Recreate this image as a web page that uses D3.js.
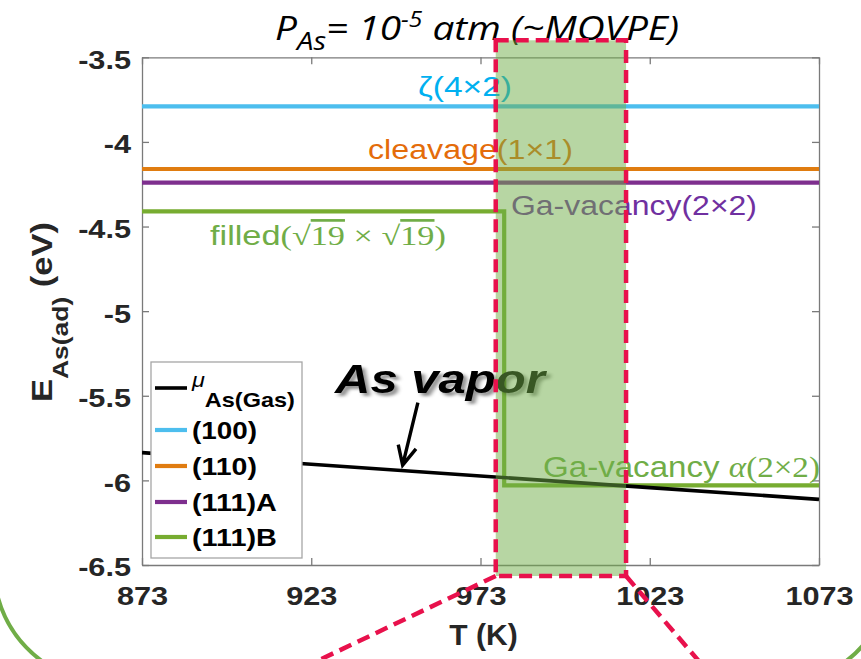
<!DOCTYPE html>
<html>
<head>
<meta charset="utf-8">
<script src="https://cdn.jsdelivr.net/npm/d3@7"></script>
<style>
  body { margin: 0; background: #fff; }
  svg { display: block; }
</style>
</head>
<body>
<svg id="chart" width="861" height="659"></svg>
<script>
// ---- data -------------------------------------------------------------
const tempTicks = [873, 923, 973, 1023, 1073];          // T (K)
const energyTicks = [-3.5, -4, -4.5, -5, -5.5, -6, -6.5]; // eV
const gasT  = [873, 923, 973, 1023, 1073];
const gasMu = [-5.836, -5.905, -5.974, -6.043, -6.112]; // mu As(gas)
const surfaces = ["(100)", "(110)", "(111)A", "(111)B"];
const surfaceColors = ["#4DBEEE", "#E07C10", "#7E2F8E", "#77AC30"];
const e100  = -3.79;   // zeta(4x2)
const e110  = -4.16;   // cleavage(1x1)
const e111A = -4.24;   // Ga-vacancy(2x2)
const e111B_T = [873, 980, 1073];
const e111B   = [-4.41, -6.03, -6.03]; // filled -> Ga-vacancy alpha
const windowT = [977.5, 1016];          // growth window
const arrowFrom = [954.5, -5.54];
const arrowTo   = [950, -5.91];

// ---- layout -----------------------------------------------------------
const plot = { left: 142, right: 819, top: 57.3, bottom: 565 };
const x = d3.scaleLinear().domain([873, 1073]).range([plot.left, plot.right]);
const y = d3.scaleLinear().domain([-6.5, -3.5]).range([plot.bottom, plot.top]);
const svg = d3.select("#chart");
const SANS = "'Liberation Sans', Arial, sans-serif";
const SERIF = "'Liberation Serif', 'DejaVu Serif', serif";
const STRETCH = 1.18;

const defs = svg.append("defs");
defs.append("clipPath").attr("id", "plotClip")
  .append("rect").attr("x", plot.left).attr("y", plot.top)
  .attr("width", plot.right - plot.left).attr("height", plot.bottom - plot.top);
const shadow = defs.append("filter").attr("id", "shadow")
  .attr("x", "-10%").attr("y", "-20%").attr("width", "130%").attr("height", "160%");
shadow.append("feDropShadow").attr("dx", 3).attr("dy", 3)
  .attr("stdDeviation", 1.6).attr("flood-color", "#000").attr("flood-opacity", 0.45);

// text block helper: builds text at origin, then fits to a given width
function textBlock(parent, px, py, width, build, anchor = "start") {
  const g = parent.append("g");
  const t = g.append("text").attr("text-anchor", anchor);
  build(t);
  const bw = t.node().getBBox().width;
  const k = width && bw ? width / bw : 1;
  g.attr("transform", `translate(${px},${py}) scale(${k},1)`);
  return t;
}

// ---- title ------------------------------------------------------------
textBlock(svg, 275, 39.5, 404, t => {
  t.attr("font-family", "'Open Sans', 'Noto Sans', sans-serif")
   .attr("font-style", "italic").attr("font-size", 33).attr("fill", "#000");
  t.append("tspan").text("P");
  t.append("tspan").attr("font-size", 25).attr("dy", 10).text("As");
  t.append("tspan").attr("dy", -10).text("= 10");
  t.append("tspan").attr("font-size", 21).attr("dy", -13).text("-5");
  t.append("tspan").attr("dy", 13).text(" atm (~MOVPE)");
});

// ---- axes -------------------------------------------------------------
const axisColor = "#7a7a7a";
function styleAxis(g) {
  g.selectAll("path, line").attr("stroke", axisColor).attr("stroke-width", 1.3);
  g.selectAll("text").attr("font-family", SANS).attr("font-weight", "bold")
    .attr("font-size", 26).attr("fill", "#262626");
}
const gBottom = svg.append("g").attr("transform", `translate(0,${plot.bottom})`)
  .call(d3.axisBottom(x).tickValues(tempTicks).tickFormat(d => String(d))
    .tickSizeInner(-7).tickSizeOuter(0).tickPadding(22));
styleAxis(gBottom);
gBottom.selectAll("text").attr("transform", `scale(${STRETCH},1)`);

const gLeft = svg.append("g").attr("transform", `translate(${plot.left},0)`)
  .call(d3.axisLeft(y).tickValues(energyTicks).tickFormat(d => String(d))
    .tickSizeInner(-7).tickSizeOuter(0).tickPadding(11));
styleAxis(gLeft);
gLeft.selectAll("text").attr("x", -11 / STRETCH).attr("dy", "0.42em")
  .attr("transform", `scale(${STRETCH},1)`);

const gTop = svg.append("g").attr("transform", `translate(0,${plot.top})`)
  .call(d3.axisTop(x).tickValues(tempTicks).tickFormat("").tickSizeInner(-7).tickSizeOuter(0));
styleAxis(gTop);
const gRight = svg.append("g").attr("transform", `translate(${plot.right},0)`)
  .call(d3.axisRight(y).tickValues(energyTicks).tickFormat("").tickSizeInner(-7).tickSizeOuter(0));
styleAxis(gRight);

// axis titles
textBlock(svg, (plot.left + plot.right) / 2 + 3, 645, null, t => {
  t.attr("font-family", SANS).attr("font-weight", "bold").attr("font-size", 30)
   .attr("fill", "#262626").text("T (K)");
}, "middle");

const yTitle = svg.append("g").attr("transform", "translate(52,402) rotate(-90)");
textBlock(yTitle, 0, 0, 180, t => {
  t.attr("font-family", SANS).attr("font-weight", "bold").attr("font-size", 30)
   .attr("fill", "#262626");
  t.append("tspan").text("E");
  t.append("tspan").attr("font-size", 23).attr("dy", 16).text("As(ad)");
  t.append("tspan").attr("dy", -16).text(" (eV)");
});

// ---- series -----------------------------------------------------------
const lines = svg.append("g").attr("clip-path", "url(#plotClip)");
const line = d3.line().x(d => x(d[0])).y(d => y(d[1]));
const flat = e => x.domain().map(t => [t, e]);
[e100, e110, e111A].forEach((e, i) => {
  lines.append("path").attr("d", line(flat(e))).attr("fill", "none")
    .attr("stroke", surfaceColors[i]).attr("stroke-width", 4.2);
});
lines.append("path").attr("d", line.curve(d3.curveStepAfter)(e111B_T.map((t, i) => [t, e111B[i]])))
  .attr("fill", "none").attr("stroke", surfaceColors[3]).attr("stroke-width", 4.2);
line.curve(d3.curveLinear);
lines.append("path").attr("d", line(gasT.map((t, i) => [t, gasMu[i]])))
  .attr("fill", "none").attr("stroke", "#000").attr("stroke-width", 3.6);

// ---- surface labels ---------------------------------------------------
const labels = svg.append("g");
textBlock(labels, 418, y(e100) - 10, 94, t => {
  t.attr("font-family", SANS).attr("font-size", 27).attr("fill", "#00B0F0").text("ζ(4×2)");
});
textBlock(labels, 368, y(e110) - 10, 205, t => {
  t.attr("font-family", SANS).attr("font-size", 27).attr("fill", "#E46C0A").text("cleavage(1×1)");
});
textBlock(labels, 511, y(e111A) + 32, 246, t => {
  t.attr("font-family", SANS).attr("font-size", 27).attr("fill", "#7030A0").text("Ga-vacancy(2×2)");
});
textBlock(labels, 210, y(e111B[0]) + 34, 236, t => {
  t.attr("font-family", SANS).attr("font-size", 27).attr("fill", "#70AD47");
  t.append("tspan").text("filled");
  t.append("tspan").attr("font-family", SERIF).text("(√");
  t.append("tspan").attr("font-family", SERIF).style("text-decoration", "overline").text("19");
  t.append("tspan").attr("font-family", SERIF).text(" × √");
  t.append("tspan").attr("font-family", SERIF).style("text-decoration", "overline").text("19");
  t.append("tspan").attr("font-family", SERIF).text(")");
});
textBlock(labels, 543, y(e111B[2]) - 8, 277, t => {
  t.attr("font-family", SANS).attr("font-size", 29).attr("fill", "#70AD47");
  t.append("tspan").text("Ga-vacancy ");
  t.append("tspan").attr("font-family", SERIF).attr("font-style", "italic").text("α");
  t.append("tspan").attr("font-family", SERIF).text("(2×2)");
});

// ---- "As vapor" annotation ---------------------------------------------
textBlock(svg, 335, 393, 214, t => {
  t.attr("font-family", SANS).attr("font-weight", "bold").attr("font-style", "italic")
   .attr("font-size", 40).attr("fill", "#000").attr("filter", "url(#shadow)").text("As vapor");
});
const ax0 = x(arrowFrom[0]), ay0 = y(arrowFrom[1]);
const ax1 = x(arrowTo[0]), ay1 = y(arrowTo[1]);
const ang = Math.atan2(ay1 - ay0, ax1 - ax0);
const head = 21, spread = 0.45;
svg.append("path")
  .attr("d", `M${ax0},${ay0}L${ax1},${ay1}` +
    `M${ax1 - head * Math.cos(ang - spread)},${ay1 - head * Math.sin(ang - spread)}` +
    `L${ax1},${ay1}L${ax1 - head * Math.cos(ang + spread)},${ay1 - head * Math.sin(ang + spread)}`)
  .attr("fill", "none").attr("stroke", "#000").attr("stroke-width", 3.4)
  .attr("stroke-linejoin", "miter");

// ---- legend -----------------------------------------------------------
const legend = svg.append("g").attr("transform", "translate(151,362)");
legend.append("rect").attr("x", 0).attr("y", 0).attr("width", 151).attr("height", 196)
  .attr("fill", "#fff").attr("stroke", "#a6a6a6").attr("stroke-width", 1.3);
const legendRows = [26, 68, 104, 140, 175];
const legendColors = ["#000"].concat(surfaceColors);
legendRows.forEach((ry, i) => {
  legend.append("line").attr("x1", 4).attr("x2", 36).attr("y1", ry).attr("y2", ry)
    .attr("stroke", legendColors[i]).attr("stroke-width", i === 0 ? 3.6 : 4.2);
});
textBlock(legend, 41, 26, 104, t => {
  t.attr("font-family", SANS).attr("fill", "#000");
  t.append("tspan").attr("font-style", "italic").attr("font-size", 21).attr("dy", -1).text("μ");
  t.append("tspan").attr("font-weight", "bold").attr("font-size", 21).attr("dy", 20).text("As(Gas)");
});
const legendWidths = [65, 65, 85, 85];
surfaces.forEach((s, i) => {
  textBlock(legend, 41, legendRows[i + 1] + 8.5, legendWidths[i], t => {
    t.attr("font-family", SANS).attr("font-weight", "bold").attr("font-size", 24)
     .attr("fill", "#000").text(s);
  });
});

// ---- growth window ----------------------------------------------------
const wx0 = x(windowT[0]), wx1 = x(windowT[1]);
const wy0 = plot.top - 17, wy1 = plot.bottom + 11;
svg.append("rect").attr("x", wx0).attr("y", wy0).attr("width", wx1 - wx0).attr("height", wy1 - wy0)
  .attr("fill", "#70AD47").attr("fill-opacity", 0.5);
const dash = { stroke: "#E8114C", width: 4.5, pattern: "13,7" };
svg.append("rect").attr("x", wx0).attr("y", wy0).attr("width", wx1 - wx0).attr("height", wy1 - wy0)
  .attr("fill", "none").attr("stroke", dash.stroke).attr("stroke-width", dash.width)
  .attr("stroke-dasharray", dash.pattern);
svg.append("path")
  .attr("d", `M${wx0},${wy1}L${wx0 - 2.1 * 100},${wy1 + 100}M${wx1},${wy1}L${wx1 + 0.855 * 100},${wy1 + 100}`)
  .attr("fill", "none").attr("stroke", dash.stroke).attr("stroke-width", dash.width)
  .attr("stroke-dasharray", dash.pattern);

// ---- frame outline below the chart ------------------------------------
svg.append("path")
  .attr("d", "M-3,594 Q8,638 46,664 M842,664 Q854,656 864,644")
  .attr("fill", "none").attr("stroke", "#70AD47").attr("stroke-width", 4);
</script>
</body>
</html>
